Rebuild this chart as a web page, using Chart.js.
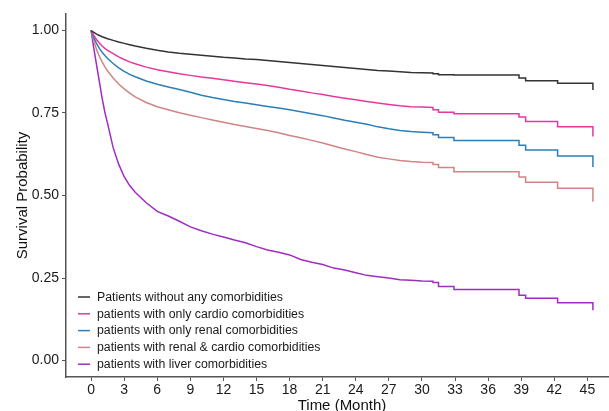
<!DOCTYPE html>
<html>
<head>
<meta charset="utf-8">
<script src="https://cdn.jsdelivr.net/npm/chart.js@4.4.0/dist/chart.umd.min.js"></script>
<style>
  html, body { margin: 0; padding: 0; background: #fff; overflow: hidden; }
  canvas { display: block; }
</style>
</head>
<body>
<canvas id="km" width="618" height="418"></canvas>
<script>
// curve vertices: follow-up time in months (repeated times = a vertical drop)
const months = [0, 0.25, 0.5, 0.75, 1, 1.25, 1.5, 2, 2.5, 3, 3.5, 4, 5, 6, 7, 8, 9, 10, 11, 12,
  13, 14, 15, 16, 17, 18, 19, 20, 21, 22, 23, 24, 25, 26, 27, 28, 29, 30,
  31, 31, 31.5, 31.5, 32.9, 32.9, 38.8, 38.8, 39.4, 39.4, 42.3, 42.3, 45.5, 45.5];

const noneSurv = [1.000, 0.994, 0.989, 0.985, 0.981, 0.978, 0.975, 0.970, 0.965, 0.961, 0.957, 0.953,
  0.946, 0.940, 0.935, 0.931, 0.928, 0.925, 0.922, 0.919, 0.917, 0.914, 0.912, 0.909, 0.906, 0.903,
  0.900, 0.897, 0.894, 0.891, 0.888, 0.885, 0.882, 0.879, 0.877, 0.875, 0.873, 0.872,
  0.871, 0.869, 0.869, 0.866, 0.866, 0.865, 0.865, 0.856, 0.856, 0.848, 0.848, 0.840, 0.840, 0.820];

const cardioSurv = [1.000, 0.985, 0.972, 0.962, 0.953, 0.946, 0.940, 0.930, 0.920, 0.912, 0.905, 0.899,
  0.889, 0.881, 0.875, 0.869, 0.864, 0.859, 0.855, 0.851, 0.846, 0.842, 0.838, 0.833, 0.828, 0.822,
  0.817, 0.811, 0.806, 0.800, 0.795, 0.790, 0.785, 0.780, 0.776, 0.772, 0.769, 0.768,
  0.767, 0.760, 0.760, 0.752, 0.752, 0.748, 0.748, 0.738, 0.738, 0.724, 0.724, 0.708, 0.708, 0.679];

const renalSurv = [1.000, 0.978, 0.960, 0.946, 0.934, 0.924, 0.915, 0.900, 0.887, 0.876, 0.867, 0.860,
  0.847, 0.837, 0.829, 0.821, 0.813, 0.804, 0.797, 0.791, 0.785, 0.780, 0.775, 0.770, 0.765, 0.760,
  0.754, 0.748, 0.742, 0.735, 0.728, 0.722, 0.716, 0.708, 0.702, 0.697, 0.694, 0.692,
  0.690, 0.684, 0.684, 0.676, 0.676, 0.667, 0.667, 0.652, 0.652, 0.638, 0.638, 0.620, 0.620, 0.586];

const renalCardioSurv = [1.000, 0.968, 0.942, 0.922, 0.905, 0.890, 0.877, 0.856, 0.838, 0.823, 0.810, 0.799,
  0.782, 0.769, 0.760, 0.751, 0.743, 0.736, 0.729, 0.722, 0.715, 0.709, 0.703, 0.697, 0.690, 0.682,
  0.675, 0.667, 0.659, 0.650, 0.641, 0.633, 0.624, 0.616, 0.611, 0.606, 0.603, 0.601,
  0.600, 0.594, 0.594, 0.585, 0.585, 0.572, 0.572, 0.556, 0.556, 0.540, 0.540, 0.522, 0.522, 0.481];

const liverSurv = [1.000, 0.945, 0.895, 0.845, 0.795, 0.752, 0.718, 0.645, 0.595, 0.557, 0.530, 0.510,
  0.478, 0.452, 0.438, 0.422, 0.405, 0.393, 0.383, 0.374, 0.365, 0.357, 0.345, 0.335, 0.328, 0.320,
  0.306, 0.298, 0.291, 0.280, 0.274, 0.266, 0.258, 0.254, 0.250, 0.245, 0.243, 0.241,
  0.240, 0.236, 0.236, 0.224, 0.224, 0.215, 0.215, 0.198, 0.198, 0.189, 0.189, 0.175, 0.175, 0.152];

const groupLabels = [
  'Patients without any comorbidities',
  'patients with only cardio comorbidities',
  'patients with only renal comorbidities',
  'patients with renal & cardio comorbidities',
  'patients with liver comorbidities'
];

const xTicks = [0, 3, 6, 9, 12, 15, 18, 21, 24, 27, 30, 33, 36, 39, 42, 45];
const yTicks = [0, 0.25, 0.5, 0.75, 1];

const series = [noneSurv, cardioSurv, renalSurv, renalCardioSurv, liverSurv];
const colors = ['#333333', '#e2399f', '#2b7fb6', '#cf8585', '#a02cc0'];

const FONT = '"Liberation Sans", Arial, sans-serif';

const datasets = series.map((vals, i) => ({
  label: groupLabels[i],
  data: months.map((t, j) => ({ x: t, y: vals[j] })),
  borderColor: colors[i],
  borderWidth: 1.5,
  pointRadius: 0,
  tension: 0,
  fill: false
}));

// legend drawn inside the plot, bottom-left, like the ggplot one
const insideLegend = {
  id: 'insideLegend',
  afterDraw(chart) {
    const ctx = chart.ctx;
    const area = chart.chartArea;
    ctx.save();
    ctx.font = '12.3px ' + FONT;
    ctx.textBaseline = 'middle';
    chart.data.datasets.forEach((ds, i) => {
      const y = area.bottom - 80 + i * 16.8;
      ctx.strokeStyle = ds.borderColor;
      ctx.lineWidth = 1.5;
      ctx.beginPath();
      ctx.moveTo(area.left + 12, y);
      ctx.lineTo(area.left + 24, y);
      ctx.stroke();
      ctx.fillStyle = '#1a1a1a';
      ctx.fillText(ds.label, area.left + 31, y + 0.5);
    });
    ctx.restore();
  }
};

new Chart(document.getElementById('km'), {
  type: 'line',
  data: { datasets },
  plugins: [insideLegend],
  options: {
    responsive: false,
    animation: false,
    layout: { padding: { top: 14, right: 0, bottom: 0, left: 0 } },
    plugins: {
      legend: { display: false },
      tooltip: { enabled: false }
    },
    scales: {
      x: {
        type: 'linear',
        min: -2.275,
        max: 47.775,
        afterBuildTicks: s => { s.ticks = xTicks.map(v => ({ value: v })); },
        afterFit: s => { s.height = 41; },
        grid: { drawOnChartArea: false, drawTicks: true, tickLength: 4, color: '#555', lineWidth: 1 },
        border: { display: true, color: '#555', width: 1.5 },
        ticks: { color: '#1a1a1a', font: { family: FONT, size: 14 }, padding: 1, maxRotation: 0, autoSkip: false,
          callback: v => String(v) },
        title: { display: true, text: 'Time (Month)', color: '#111', font: { family: FONT, size: 15 },
          padding: { top: 0, bottom: 3 } }
      },
      y: {
        min: -0.05,
        max: 1.05,
        afterBuildTicks: s => { s.ticks = yTicks.map(v => ({ value: v })); },
        afterFit: s => { s.width = 66; },
        grid: { drawOnChartArea: false, drawTicks: true, tickLength: 4, color: '#555', lineWidth: 1 },
        border: { display: true, color: '#555', width: 1.5 },
        ticks: { color: '#1a1a1a', font: { family: FONT, size: 14 }, padding: 3,
          callback: v => v.toFixed(2) },
        title: { display: true, text: 'Survival Probability', color: '#111', font: { family: FONT, size: 15 },
          padding: { top: 14, bottom: 0 } }
      }
    }
  }
});
</script>
</body>
</html>
